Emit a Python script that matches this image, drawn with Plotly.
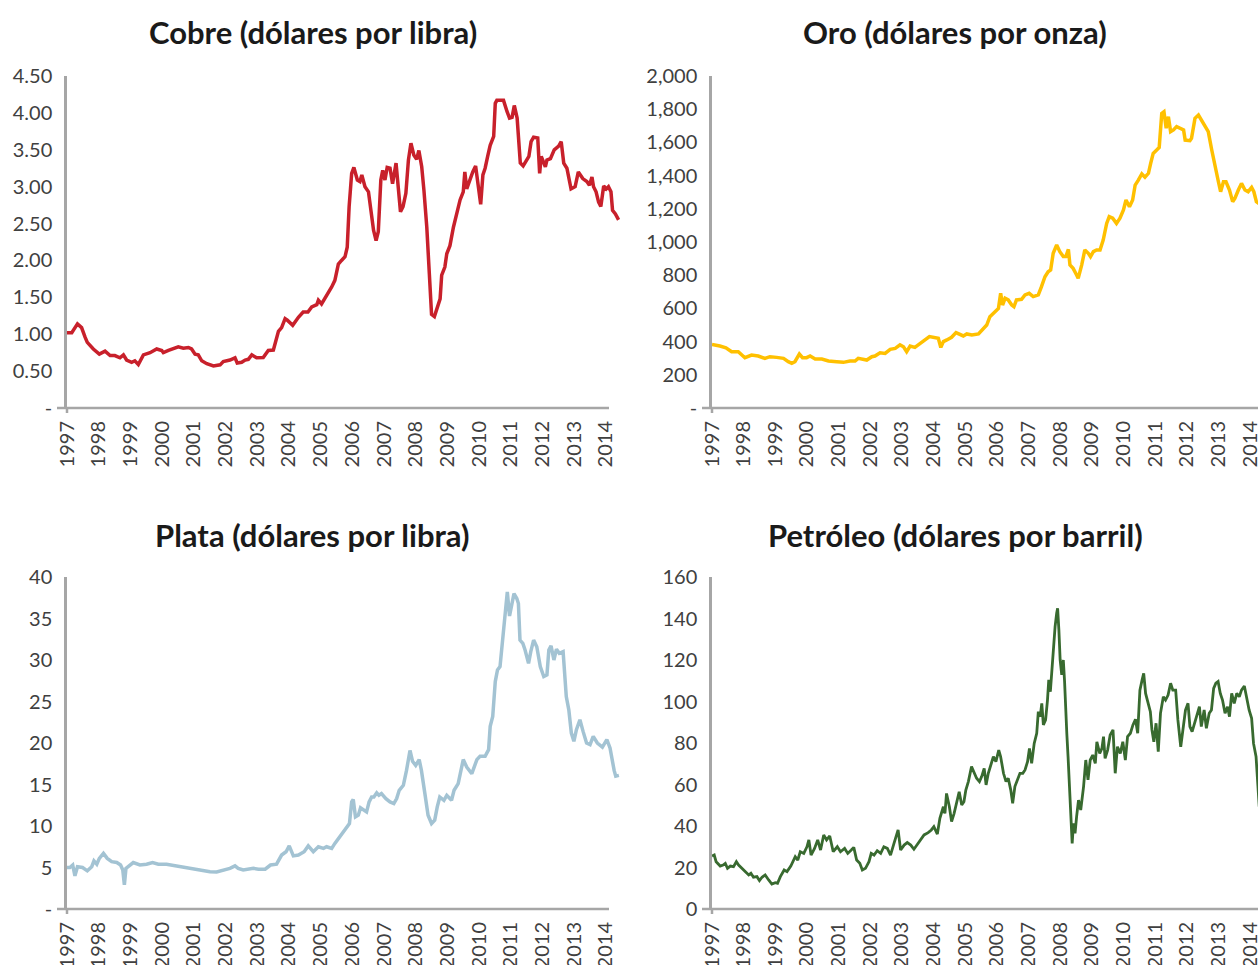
import plotly.graph_objects as go

# Precios de materias primas, 1997-2014
anios = list(range(1997, 2015))
anios_txt = [str(a) for a in anios]

cobre_anio = [1997.0, 1997.15, 1997.33, 1997.46, 1997.57, 1997.64, 1997.83, 1998.02, 1998.2, 1998.36,
              1998.51, 1998.67, 1998.78, 1998.88, 1999.04, 1999.14, 1999.25, 1999.41, 1999.62, 1999.83,
              1999.99, 2000.04, 2000.2, 2000.35, 2000.51, 2000.67, 2000.83, 2000.93, 2001.04, 2001.14,
              2001.25, 2001.41, 2001.62, 2001.83, 2001.93, 2002.14, 2002.3, 2002.37, 2002.51, 2002.62,
              2002.72, 2002.83, 2002.98, 2003.19, 2003.35, 2003.51, 2003.67, 2003.77, 2003.88, 2003.95,
              2004.12, 2004.3, 2004.45, 2004.6, 2004.72, 2004.88, 2004.93, 2005.03, 2005.19, 2005.35,
              2005.45, 2005.56, 2005.66, 2005.77, 2005.84, 2005.9, 2005.98, 2006.05, 2006.16, 2006.24,
              2006.3, 2006.4, 2006.51, 2006.58, 2006.67, 2006.75, 2006.82, 2006.9, 2006.96, 2007.03,
              2007.1, 2007.19, 2007.27, 2007.38, 2007.45, 2007.52, 2007.6, 2007.69, 2007.77, 2007.85,
              2007.94, 2008.03, 2008.1, 2008.19, 2008.26, 2008.35, 2008.43, 2008.5, 2008.59, 2008.68,
              2008.77, 2008.82, 2008.92, 2008.98, 2009.08, 2009.19, 2009.29, 2009.4, 2009.5, 2009.55,
              2009.61, 2009.71, 2009.8, 2009.89, 2009.98, 2010.05, 2010.12, 2010.19, 2010.27, 2010.35,
              2010.46, 2010.51, 2010.56, 2010.77, 2010.88, 2010.96, 2011.04, 2011.11, 2011.2, 2011.25,
              2011.3, 2011.39, 2011.46, 2011.57, 2011.64, 2011.72, 2011.85, 2011.91, 2011.96, 2012.04,
              2012.09, 2012.14, 2012.25, 2012.37, 2012.51, 2012.59, 2012.67, 2012.77, 2012.9, 2013.03,
              2013.13, 2013.27, 2013.4, 2013.48, 2013.56, 2013.61, 2013.69, 2013.77, 2013.84, 2013.93,
              2014.01, 2014.08, 2014.16, 2014.21, 2014.3, 2014.4]
cobre_valor = [1.02, 1.02, 1.14, 1.09, 0.96, 0.89, 0.80, 0.73, 0.77, 0.71,
               0.71, 0.68, 0.72, 0.65, 0.62, 0.64, 0.59, 0.72, 0.75, 0.80,
               0.78, 0.75, 0.78, 0.80, 0.83, 0.81, 0.82, 0.80, 0.73, 0.72,
               0.64, 0.60, 0.57, 0.585, 0.63, 0.65, 0.68, 0.61, 0.62, 0.65,
               0.66, 0.72, 0.68, 0.685, 0.78, 0.785, 1.04, 1.09, 1.21, 1.19,
               1.12, 1.23, 1.30, 1.30, 1.37, 1.40, 1.46, 1.41, 1.52, 1.64,
               1.73, 1.95, 2.00, 2.05, 2.18, 2.73, 3.18, 3.26, 3.09, 3.07,
               3.16, 3.00, 2.93, 2.73, 2.41, 2.27, 2.39, 3.09, 3.22, 3.09,
               3.26, 3.25, 3.04, 3.32, 3.00, 2.66, 2.73, 2.91, 3.36, 3.59,
               3.43, 3.37, 3.49, 3.27, 2.95, 2.45, 1.82, 1.27, 1.24, 1.37,
               1.48, 1.80, 1.91, 2.09, 2.20, 2.45, 2.63, 2.82, 2.93, 3.20,
               2.97, 3.11, 3.20, 3.28, 2.97, 2.76, 3.16, 3.25, 3.41, 3.56,
               3.68, 4.13, 4.17, 4.17, 4.02, 3.93, 3.94, 4.10, 3.93, 3.63,
               3.32, 3.28, 3.34, 3.41, 3.61, 3.67, 3.66, 3.18, 3.41, 3.32,
               3.27, 3.36, 3.38, 3.50, 3.55, 3.61, 3.32, 3.25, 2.97, 3.00,
               3.20, 3.11, 3.07, 3.02, 3.13, 3.00, 2.93, 2.79, 2.73, 3.01,
               2.97, 3.00, 2.93, 2.68, 2.63, 2.55]

oro_anio = [1997.0, 1997.09, 1997.25, 1997.44, 1997.62, 1997.83, 1998.04, 1998.25, 1998.46, 1998.67,
            1998.83, 1999.04, 1999.26, 1999.41, 1999.52, 1999.62, 1999.76, 1999.86, 1999.99, 2000.1,
            2000.26, 2000.47, 2000.68, 2000.94, 2001.15, 2001.36, 2001.52, 2001.62, 2001.73, 2001.89,
            2002.05, 2002.15, 2002.31, 2002.47, 2002.63, 2002.79, 2002.94, 2003.05, 2003.15, 2003.26,
            2003.41, 2003.57, 2003.73, 2003.87, 2003.99, 2004.15, 2004.23, 2004.31, 2004.42, 2004.57,
            2004.71, 2004.83, 2004.94, 2005.05, 2005.21, 2005.42, 2005.58, 2005.68, 2005.78, 2005.94,
            2006.05, 2006.12, 2006.18, 2006.26, 2006.36, 2006.47, 2006.54, 2006.62, 2006.78, 2006.89,
            2007.02, 2007.15, 2007.31, 2007.41, 2007.52, 2007.62, 2007.7, 2007.78, 2007.89, 2007.99,
            2008.1, 2008.18, 2008.26, 2008.31, 2008.41, 2008.52, 2008.57, 2008.68, 2008.78, 2008.89,
            2008.96, 2009.05, 2009.15, 2009.26, 2009.36, 2009.47, 2009.55, 2009.66, 2009.78, 2009.89,
            2010.0, 2010.08, 2010.19, 2010.29, 2010.37, 2010.47, 2010.58, 2010.68, 2010.79, 2010.86,
            2010.94, 2011.05, 2011.13, 2011.21, 2011.28, 2011.35, 2011.42, 2011.49, 2011.58, 2011.68,
            2011.79, 2011.9, 2011.95, 2012.1, 2012.15, 2012.26, 2012.37, 2012.47, 2012.58, 2012.68,
            2012.79, 2012.89, 2013.0, 2013.07, 2013.16, 2013.24, 2013.35, 2013.45, 2013.52, 2013.63,
            2013.73, 2013.84, 2013.94, 2014.05, 2014.12, 2014.2, 2014.3]
oro_valor = [382, 380, 373, 363, 339, 339, 303, 319, 313, 299,
             309, 305, 299, 279, 269, 279, 325, 303, 303, 313,
             295, 295, 283, 279, 275, 283, 283, 299, 293, 289,
             309, 313, 333, 329, 353, 359, 380, 369, 339, 373,
             365, 390, 410, 430, 426, 420, 365, 400, 410, 426,
             454, 446, 434, 446, 440, 446, 480, 500, 550, 576,
             600, 691, 620, 661, 651, 620, 610, 651, 655, 681,
             691, 671, 681, 731, 791, 821, 831, 932, 982, 942,
             912, 912, 956, 861, 841, 801, 781, 861, 952, 932,
             912, 942, 952, 952, 1012, 1112, 1153, 1143, 1112, 1143,
             1193, 1253, 1213, 1253, 1343, 1373, 1410, 1390, 1414, 1474,
             1534, 1554, 1570, 1775, 1785, 1685, 1755, 1665, 1675, 1695,
             1685, 1675, 1614, 1610, 1624, 1745, 1765, 1735, 1695, 1665,
             1554, 1454, 1363, 1303, 1363, 1363, 1313, 1243, 1263, 1313,
             1353, 1313, 1303, 1329, 1303, 1243, 1230]

plata_anio = [1997.0, 1997.09, 1997.18, 1997.25, 1997.33, 1997.49, 1997.64, 1997.78, 1997.85, 1997.94,
              1998.02, 1998.15, 1998.27, 1998.41, 1998.57, 1998.69, 1998.76, 1998.81, 1998.86, 1998.97,
              1999.09, 1999.3, 1999.51, 1999.7, 1999.88, 2000.14, 2000.46, 2000.72, 2000.99, 2001.25,
              2001.51, 2001.72, 2001.93, 2002.14, 2002.3, 2002.4, 2002.56, 2002.72, 2002.88, 2003.04,
              2003.25, 2003.42, 2003.61, 2003.77, 2003.91, 2004.01, 2004.14, 2004.3, 2004.48, 2004.61,
              2004.77, 2004.93, 2005.09, 2005.19, 2005.35, 2005.45, 2005.61, 2005.77, 2005.91, 2005.98,
              2006.03, 2006.1, 2006.19, 2006.26, 2006.37, 2006.45, 2006.53, 2006.61, 2006.68, 2006.77,
              2006.84, 2006.92, 2007.06, 2007.19, 2007.31, 2007.4, 2007.48, 2007.61, 2007.71, 2007.82,
              2007.9, 2008.0, 2008.11, 2008.18, 2008.29, 2008.39, 2008.5, 2008.6, 2008.68, 2008.76,
              2008.89, 2008.98, 2009.13, 2009.21, 2009.34, 2009.5, 2009.61, 2009.77, 2009.93, 2010.03,
              2010.19, 2010.3, 2010.35, 2010.43, 2010.51, 2010.58, 2010.66, 2010.75, 2010.84, 2010.89,
              2010.96, 2011.03, 2011.1, 2011.19, 2011.24, 2011.29, 2011.38, 2011.45, 2011.56, 2011.63,
              2011.72, 2011.82, 2011.93, 2012.04, 2012.14, 2012.2, 2012.27, 2012.36, 2012.44, 2012.53,
              2012.65, 2012.75, 2012.83, 2012.91, 2012.99, 2013.07, 2013.18, 2013.28, 2013.39, 2013.5,
              2013.6, 2013.73, 2013.89, 2014.03, 2014.13, 2014.26, 2014.31, 2014.41]
plata_valor = [5.0, 5.0, 5.3, 4.0, 5.1, 5.0, 4.6, 5.1, 5.8, 5.4,
               6.1, 6.7, 6.1, 5.7, 5.6, 5.3, 4.7, 2.9, 4.9, 5.2,
               5.6, 5.3, 5.4, 5.6, 5.4, 5.4, 5.2, 5.0, 4.8, 4.6,
               4.5, 4.46, 4.7, 4.9, 5.2, 4.9, 4.7, 4.8, 4.9, 4.8,
               4.8, 5.3, 5.4, 6.5, 6.9, 7.6, 6.4, 6.5, 6.9, 7.6,
               6.9, 7.5, 7.3, 7.5, 7.3, 7.9, 8.7, 9.5, 10.3, 12.9,
               13.2, 11.1, 11.3, 12.2, 11.9, 11.7, 12.9, 13.5, 13.5, 14.0,
               13.7, 13.9, 13.3, 12.9, 12.7, 13.3, 14.3, 14.9, 16.7, 19.1,
               17.8, 17.3, 18.0, 16.7, 13.9, 11.3, 10.3, 10.7, 12.3, 13.5,
               13.1, 13.7, 13.1, 14.3, 15.1, 18.0, 17.1, 16.3, 18.0, 18.4,
               18.4, 19.2, 22.0, 23.2, 27.4, 28.8, 29.2, 32.8, 36.0, 38.2,
               35.3, 36.8, 38.0, 37.4, 36.8, 32.4, 32.0, 31.2, 29.6, 31.0,
               32.4, 31.6, 29.2, 28.0, 28.2, 31.2, 31.7, 30.0, 31.3, 30.8,
               31.0, 25.6, 24.0, 21.2, 20.2, 21.6, 22.8, 21.4, 20.0, 19.8,
               20.8, 20.0, 19.5, 20.4, 19.4, 16.7, 16.0, 16.1]

petroleo_anio = [1997.0, 1997.07, 1997.13, 1997.26, 1997.35, 1997.42, 1997.49, 1997.58, 1997.68, 1997.77,
                 1997.84, 1997.95, 1998.05, 1998.16, 1998.23, 1998.31, 1998.42, 1998.5, 1998.58, 1998.68,
                 1998.79, 1998.89, 1999.0, 1999.07, 1999.16, 1999.28, 1999.37, 1999.49, 1999.63, 1999.71,
                 1999.79, 1999.9, 2000.0, 2000.06, 2000.13, 2000.24, 2000.34, 2000.43, 2000.53, 2000.62,
                 2000.72, 2000.83, 2000.96, 2001.06, 2001.19, 2001.29, 2001.4, 2001.48, 2001.57, 2001.67,
                 2001.75, 2001.85, 2001.96, 2002.03, 2002.12, 2002.22, 2002.33, 2002.43, 2002.54, 2002.64,
                 2002.75, 2002.88, 2002.96, 2003.07, 2003.17, 2003.28, 2003.38, 2003.49, 2003.59, 2003.7,
                 2003.83, 2003.93, 2004.01, 2004.12, 2004.2, 2004.31, 2004.36, 2004.41, 2004.5, 2004.57,
                 2004.65, 2004.75, 2004.81, 2004.89, 2004.96, 2005.02, 2005.1, 2005.2, 2005.28, 2005.36,
                 2005.45, 2005.52, 2005.6, 2005.66, 2005.73, 2005.81, 2005.89, 2005.97, 2006.06, 2006.12,
                 2006.21, 2006.29, 2006.36, 2006.44, 2006.5, 2006.57, 2006.65, 2006.73, 2006.82, 2006.89,
                 2006.97, 2007.03, 2007.1, 2007.18, 2007.26, 2007.31, 2007.37, 2007.42, 2007.47, 2007.54,
                 2007.6, 2007.64, 2007.69, 2007.74, 2007.79, 2007.84, 2007.89, 2007.92, 2007.96, 2008.0,
                 2008.05, 2008.1, 2008.14, 2008.18, 2008.21, 2008.25, 2008.3, 2008.34, 2008.38, 2008.42,
                 2008.47, 2008.52, 2008.58, 2008.65, 2008.74, 2008.81, 2008.88, 2008.95, 2009.03, 2009.11,
                 2009.16, 2009.25, 2009.32, 2009.37, 2009.42, 2009.5, 2009.58, 2009.67, 2009.74, 2009.81,
                 2009.9, 2009.98, 2010.06, 2010.13, 2010.22, 2010.3, 2010.38, 2010.45, 2010.52, 2010.59,
                 2010.64, 2010.7, 2010.77, 2010.85, 2010.9, 2010.96, 2011.03, 2011.1, 2011.17, 2011.26,
                 2011.33, 2011.41, 2011.49, 2011.56, 2011.65, 2011.72, 2011.81, 2011.88, 2011.96, 2012.04,
                 2012.1, 2012.17, 2012.25, 2012.33, 2012.4, 2012.46, 2012.55, 2012.62, 2012.71, 2012.78,
                 2012.85, 2012.92, 2012.99, 2013.06, 2013.13, 2013.21, 2013.29, 2013.35, 2013.42, 2013.5,
                 2013.58, 2013.66, 2013.73, 2013.82, 2013.9, 2013.97, 2014.05, 2014.11, 2014.19, 2014.24,
                 2014.29]
petroleo_valor = [25.5, 26.0, 22.8, 20.7, 21.2, 22.0, 19.6, 20.7, 20.4, 22.8,
                  21.2, 19.6, 18.0, 16.4, 17.2, 15.3, 15.6, 13.7, 15.3, 16.4,
                  14.0, 12.0, 12.7, 12.4, 15.6, 18.8, 18.0, 20.7, 25.2, 23.6,
                  27.6, 26.8, 30.0, 33.3, 26.0, 29.2, 33.3, 28.4, 35.7, 33.3,
                  35.2, 27.6, 30.0, 27.6, 29.2, 26.8, 28.4, 29.7, 23.6, 22.0,
                  18.8, 19.6, 22.8, 26.8, 26.0, 28.1, 26.8, 30.0, 29.2, 26.0,
                  31.6, 38.1, 28.4, 30.8, 32.0, 30.8, 28.8, 31.3, 33.3, 35.7,
                  36.8, 38.1, 39.7, 36.1, 43.7, 49.3, 46.1, 55.7, 49.3, 42.1,
                  46.1, 52.5, 56.5, 50.1, 51.7, 57.3, 61.4, 68.6, 65.4, 63.0,
                  61.4, 63.8, 67.8, 59.8, 65.4, 69.4, 73.4, 71.0, 76.6, 73.4,
                  65.4, 61.4, 63.0, 57.3, 50.9, 59.0, 62.2, 65.4, 65.4, 67.0,
                  71.0, 77.4, 70.2, 79.8, 84.7, 95.1, 92.7, 99.1, 88.7, 91.1,
                  100.7, 110.4, 104.7, 116.8, 123.2, 136.1, 142.5, 144.9, 134.5, 120.0,
                  112.8, 120.0, 109.6, 91.1, 84.7, 73.4, 59.0, 49.3, 31.6, 41.3,
                  36.5, 44.5, 52.5, 47.7, 59.0, 71.8, 62.2, 71.8, 74.2, 70.2,
                  80.6, 75.0, 77.4, 83.1, 72.6, 76.6, 83.9, 86.3, 65.4, 78.2,
                  75.0, 80.6, 71.8, 83.1, 84.7, 88.7, 91.4, 84.7, 105.5, 110.4,
                  113.6, 103.9, 99.1, 95.1, 86.3, 80.6, 89.5, 75.8, 94.3, 102.3,
                  100.7, 103.1, 108.8, 105.5, 105.5, 91.1, 78.2, 86.3, 95.9, 99.1,
                  87.9, 85.5, 89.5, 94.3, 97.5, 87.9, 95.9, 87.1, 94.3, 95.9,
                  106.3, 108.8, 109.6, 103.9, 100.7, 94.3, 97.5, 92.7, 103.9, 99.1,
                  103.9, 102.3, 105.5, 107.5, 100.7, 95.9, 91.9, 79.8, 73.4, 59.0,
                  49.3]

cobre_ticks = [0, 0.5, 1, 1.5, 2, 2.5, 3, 3.5, 4, 4.5]
cobre_ticktxt = ['-', '0.50', '1.00', '1.50', '2.00', '2.50', '3.00', '3.50', '4.00', '4.50']
oro_ticks = [0, 200, 400, 600, 800, 1000, 1200, 1400, 1600, 1800, 2000]
oro_ticktxt = ['-', '200', '400', '600', '800', '1,000', '1,200', '1,400', '1,600', '1,800', '2,000']
plata_ticks = [0, 5, 10, 15, 20, 25, 30, 35, 40]
plata_ticktxt = ['-', '5', '10', '15', '20', '25', '30', '35', '40']
petroleo_ticks = [0, 20, 40, 60, 80, 100, 120, 140, 160]
petroleo_ticktxt = ['0', '20', '40', '60', '80', '100', '120', '140', '160']

W, H = 1258, 965
FONT = 'Lato, "Open Sans", sans-serif'
AXIS_GRAY = '#A6A6A6'


def px_x(p):
    return p / W


def px_y(p):
    return 1 - p / H


fig = go.Figure()

panels = [
    # (x, y, color, width, axis suffix)
    (cobre_anio, cobre_valor, '#C8202B', 3.5, ''),
    (oro_anio, oro_valor, '#FFC000', 3.5, '2'),
    (plata_anio, plata_valor, '#A3C3D3', 3.5, '3'),
    (petroleo_anio, petroleo_valor, '#386A2F', 2.8, '4'),
]
for xs, ys, color, width, sfx in panels:
    fig.add_trace(go.Scatter(
        x=xs, y=ys, mode='lines',
        line=dict(color=color, width=width),
        xaxis='x' + sfx, yaxis='y' + sfx,
        showlegend=False, hoverinfo='x+y',
    ))

tick_font = dict(family=FONT, size=20, color='#404040')

left_dom = [px_x(67), px_x(620)]
right_dom = [px_x(712), 1.0]
top_dom = [px_y(408), px_y(76)]
bot_dom = [px_y(909), px_y(577)]

left_range = [1997, 1997 + (620 - 67) / 31.7]
right_range = [1997, 1997 + (1258 - 712) / 31.65]


def xaxis_cfg(dom, rng, anchor):
    return dict(domain=dom, range=rng, anchor=anchor, showgrid=False, zeroline=False,
                showline=False, tickmode='array', tickvals=anios, ticktext=anios_txt,
                tickangle=-90, tickfont=tick_font, ticks='', ticklabelstandoff=8,
                ticklabeloverflow='allow', automargin=False)


def yaxis_cfg(dom, rng, anchor, vals, txt):
    return dict(domain=dom, range=rng, anchor=anchor, showgrid=False, zeroline=False,
                showline=True, linecolor=AXIS_GRAY, linewidth=2.5,
                tickmode='array', tickvals=vals, ticktext=txt,
                tickfont=tick_font, ticks='', ticklabelstandoff=8, automargin=False)


fig.update_layout(
    width=W, height=H,
    margin=dict(l=0, r=0, t=0, b=0, autoexpand=False),
    paper_bgcolor='white', plot_bgcolor='white',
    font=dict(family=FONT),
    xaxis=xaxis_cfg(left_dom, left_range, 'y'),
    yaxis=yaxis_cfg(top_dom, [0, 4.5], 'x', cobre_ticks, cobre_ticktxt),
    xaxis2=xaxis_cfg(right_dom, right_range, 'y2'),
    yaxis2=yaxis_cfg(top_dom, [0, 2000], 'x2', oro_ticks, oro_ticktxt),
    xaxis3=xaxis_cfg(left_dom, left_range, 'y3'),
    yaxis3=yaxis_cfg(bot_dom, [0, 40], 'x3', plata_ticks, plata_ticktxt),
    xaxis4=xaxis_cfg(right_dom, right_range, 'y4'),
    yaxis4=yaxis_cfg(bot_dom, [0, 160], 'x4', petroleo_ticks, petroleo_ticktxt),
)

# ejes horizontales (Excel los prolonga un poco a la izquierda del eje vertical)
for x0, x1, y0, xa in [(57, 609, 408, 67), (702, 1258, 408, 712),
                       (57, 609, 909, 67), (702, 1258, 909, 712)]:
    fig.add_shape(type='line', xref='paper', yref='paper',
                  x0=px_x(x0), x1=px_x(x1), y0=px_y(y0), y1=px_y(y0),
                  line=dict(color=AXIS_GRAY, width=2.5))
    fig.add_shape(type='line', xref='paper', yref='paper',
                  x0=px_x(xa), x1=px_x(xa), y0=px_y(y0), y1=px_y(y0 + 5),
                  line=dict(color=AXIS_GRAY, width=2.5))

titulos = [
    ('Cobre (dólares por libra)', 313, 32),
    ('Oro (dólares por onza)', 955, 32),
    ('Plata (dólares por libra)', 312, 535),
    ('Petróleo (dólares por barril)', 955, 535),
]
for txt, cx, cy in titulos:
    fig.add_annotation(text='<b>' + txt + '</b>', xref='paper', yref='paper',
                       x=px_x(cx), y=px_y(cy), xanchor='center', yanchor='middle',
                       showarrow=False, font=dict(family=FONT, size=31, color='#1A1A1A'))

# sin el margen por defecto del <body>, la figura llena la ventana exacta
fig.write_html('out.html', config={'displayModeBar': False},
               post_script="document.body.style.margin = '0';")
